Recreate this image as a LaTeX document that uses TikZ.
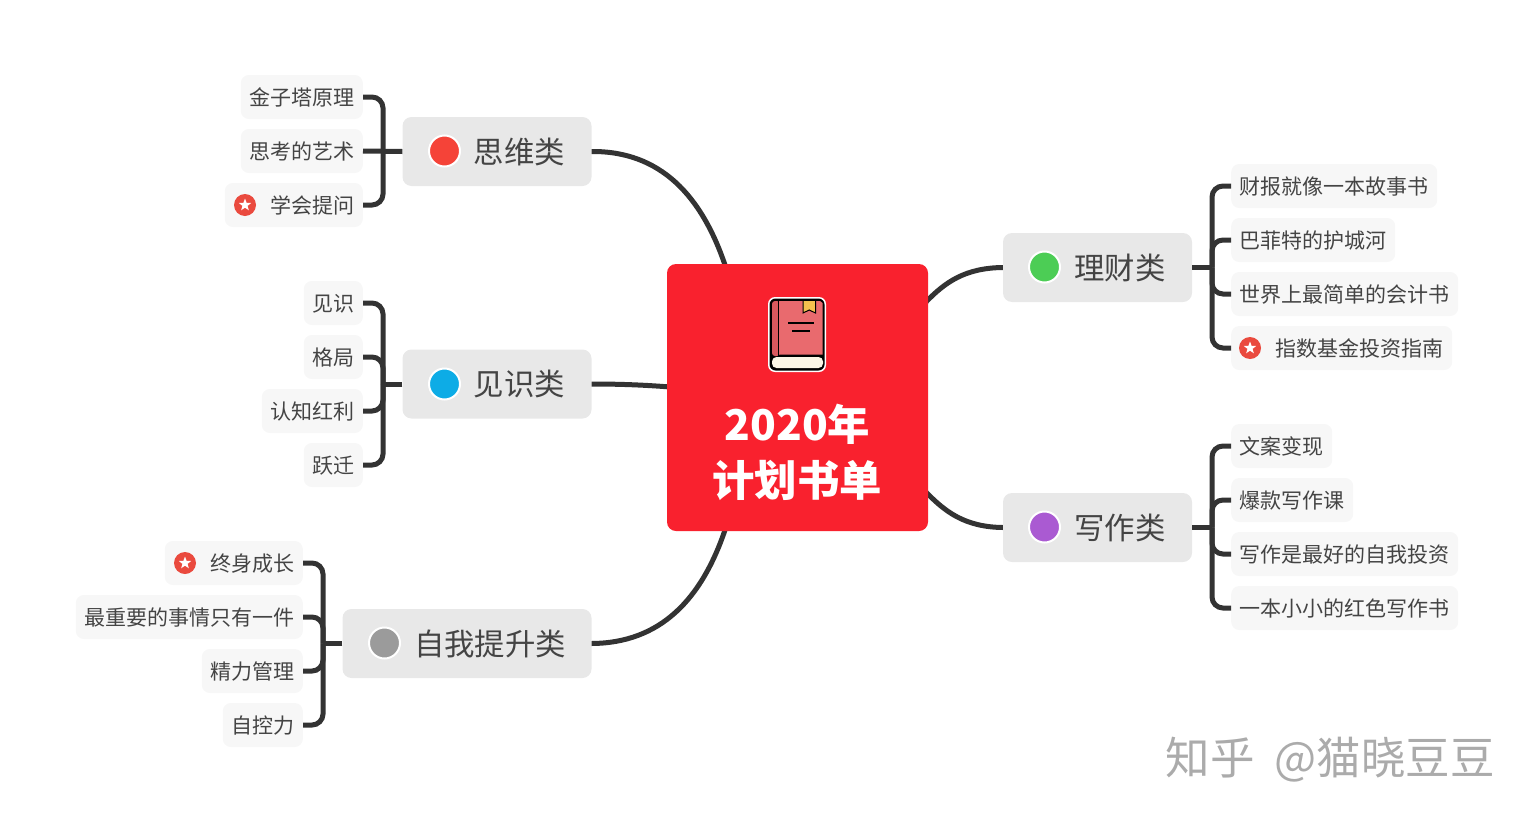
\documentclass[tikz,border=0pt]{standalone}
\usepackage{fontspec}
\setmainfont{Noto Sans CJK SC}
\usetikzlibrary{shapes.geometric}
\definecolor{linec}{HTML}{333333}
\definecolor{textc}{HTML}{444444}
\definecolor{leaff}{HTML}{F7F7F7}
\definecolor{branchf}{HTML}{E8E8E8}
\definecolor{mainf}{HTML}{F9212E}
\definecolor{badgec}{HTML}{EA4A3E}
\definecolor{bookp}{HTML}{E96A6E}
\definecolor{bookd}{HTML}{D9595E}
\definecolor{booky}{HTML}{F5C04E}
\definecolor{bookw}{HTML}{FBF6E6}
\definecolor{wmark}{HTML}{ABABAB}
\tikzset{
  leafbox/.style={fill=leaff,rounded corners=8pt,minimum height=44pt,inner xsep=8.5pt,inner ysep=0pt,text=textc,text height=19pt,text depth=3pt,font=\fontsize{21pt}{24pt}\selectfont},
  leafl/.style={leafbox,anchor=east},
  leafr/.style={leafbox,anchor=west},
  branchbox/.style={fill=branchf,rounded corners=9pt,minimum height=69pt,inner sep=0pt},
  branchtext/.style={text=textc,font=\fontsize{30.4pt}{36pt}\selectfont,inner sep=0pt},
  dotm/.style={circle,draw=white,line width=2pt,minimum size=31pt,inner sep=0pt},
  badge/.style={circle,fill=badgec,minimum size=22pt,inner sep=0pt},
  starm/.style={star,star points=5,star point ratio=2.4,fill=white,minimum size=13pt,inner sep=0pt},
  linkm/.style={draw=linec,line width=5pt,rounded corners=11pt},
  stemm/.style={draw=linec,line width=5pt},
  curvem/.style={draw=linec,line width=5pt},
  titlem/.style={text=white,font=\fontsize{42.4pt}{50pt}\bfseries\selectfont,inner sep=0pt},
}
\begin{document}
\begin{tikzpicture}[x=1pt,y=-1pt]
\useasboundingbox (0,0) rectangle (1534,822);
% main curves, behind the centre
\coordinate (cnw) at (726,268);
\coordinate (cw) at (670,387);
\coordinate (csw) at (726,527);
\coordinate (cne) at (925,303);
\coordinate (cse) at (925,491);
\node[branchbox,minimum width=189pt] (b1) at (497,151.5) {};
\node[branchbox,minimum width=189pt] (b2) at (497,384) {};
\node[branchbox,minimum width=249pt] (b3) at (467,643.5) {};
\node[branchbox,minimum width=189pt] (b4) at (1097.5,267.5) {};
\node[branchbox,minimum width=189pt] (b5) at (1097.5,527.5) {};
\draw[curvem] (b1.east) .. controls (660,151) and (702,195) .. (cnw);
\draw[curvem] (b2.east) .. controls (620,384) and (645,385) .. (cw);
\draw[curvem] (b3.east) .. controls (660,643) and (702,600) .. (csw);
\draw[curvem] (b4.west) .. controls (965,268) and (945,282) .. (cne);
\draw[curvem] (b5.west) .. controls (965,527) and (945,512) .. (cse);
% centre
\node[fill=mainf,rounded corners=9pt,minimum width=261pt,minimum height=267pt,inner sep=0pt] (center) at (797.5,397.5) {};
\node[titlem] (t1) at (797.5,424.5) {2020年};
\node[titlem] (t2) at (797,480) {计划书单};
% book icon
\fill[white,rounded corners=7pt] (768,297) rectangle (826,372);
\fill[black,rounded corners=6pt] (769.5,298.5) rectangle (824.5,370.5);
\fill[bookd,rounded corners=3pt] (772,301) rectangle (780,356);
\fill[bookp] (779,301) -- (820,301) -- (822.5,303) -- (822.5,354.5) -- (779,354.5) -- cycle;
\fill[black] (777.7,301) rectangle (779.2,356);
\fill[booky] (803,301) -- (815.5,301) -- (815.5,313) -- (809.2,310) -- (803,313) -- cycle;
\draw[black,line width=1pt] (803,301) -- (803,313) -- (809.2,310) -- (815.5,313) -- (815.5,301);
\fill[bookw,rounded corners=4.5pt] (772,357) rectangle (823,368);
\draw[black,line width=2pt] (788,322.5) -- (814,322.5);
\draw[black,line width=2pt] (792,330.8) -- (810,330.8);
% branch labels
\node[branchtext] (l1) at (519.5,151.5) {思维类};
\node[branchtext] (l2) at (519.5,384) {见识类};
\node[branchtext] (l3) at (490,643.5) {自我提升类};
\node[branchtext] (l4) at (1120,267.5) {理财类};
\node[branchtext] (l5) at (1120,527.5) {写作类};
\node[dotm,fill={rgb,255:red,245;green,67;blue,56}] (d1) at (444.5,151) {};
\node[dotm,fill={rgb,255:red,13;green,172;blue,230}] (d2) at (444.5,384) {};
\node[dotm,fill={rgb,255:red,155;green,155;blue,155}] (d3) at (384.5,643) {};
\node[dotm,fill={rgb,255:red,76;green,205;blue,85}] (d4) at (1044.5,267) {};
\node[dotm,fill={rgb,255:red,170;green,90;blue,210}] (d5) at (1044.5,527) {};
% leaves: left, upper
\node[leafl] (a1) at (363,97) {金子塔原理};
\node[leafl] (a2) at (363,151) {思考的艺术};
\node[leafl] (a3) at (363,205) {\hspace{37pt}学会提问};
\node[leafl] (e1) at (363,303) {见识};
\node[leafl] (e2) at (363,357) {格局};
\node[leafl] (e3) at (363,411) {认知红利};
\node[leafl] (e4) at (363,465) {跃迁};
\node[leafl] (s1) at (303,563) {\hspace{37pt}终身成长};
\node[leafl] (s2) at (303,617) {最重要的事情只有一件};
\node[leafl] (s3) at (303,671) {精力管理};
\node[leafl] (s4) at (303,725) {自控力};
\node[leafr] (f1) at (1231,186) {财报就像一本故事书};
\node[leafr] (f2) at (1231,240) {巴菲特的护城河};
\node[leafr] (f3) at (1231,294) {世界上最简单的会计书};
\node[leafr] (f4) at (1231,348) {\hspace{36pt}指数基金投资指南};
\node[leafr] (w1) at (1231,446) {文案变现};
\node[leafr] (w2) at (1231,500) {爆款写作课};
\node[leafr] (w3) at (1231,554) {写作是最好的自我投资};
\node[leafr] (w4) at (1231,608) {一本小小的红色写作书};
% star badges
\node[badge] (g1) at (245,205) {};
\node[starm] at (g1) {};
\node[badge] (g2) at (185,563) {};
\node[starm] at (g2) {};
\node[badge] (g3) at (1250,348) {};
\node[starm] at (g3) {};
% trunks
\coordinate (ta) at (383,151.5);
\coordinate (te) at (383,384);
\coordinate (ts) at (323,643.5);
\coordinate (tf) at (1212,267.5);
\coordinate (tw) at (1212,527.5);
\draw[stemm] (b1.west) -- (a2.east);
\draw[linkm] (a1.east) -| (ta);
\draw[linkm] (a3.east) -| (ta);
\draw[stemm] (b2.west) -- (te);
\draw[linkm] (e1.east) -| (te);
\draw[linkm] (e2.east) -| (te);
\draw[linkm] (e3.east) -| (te);
\draw[linkm] (e4.east) -| (te);
\draw[stemm] (b3.west) -- (ts);
\draw[linkm] (s1.east) -| (ts);
\draw[linkm] (s2.east) -| (ts);
\draw[linkm] (s3.east) -| (ts);
\draw[linkm] (s4.east) -| (ts);
\draw[stemm] (b4.east) -- (tf);
\draw[linkm] (f1.west) -| (tf);
\draw[linkm] (f2.west) -| (tf);
\draw[linkm] (f3.west) -| (tf);
\draw[linkm] (f4.west) -| (tf);
\draw[stemm] (b5.east) -- (tw);
\draw[linkm] (w1.west) -| (tw);
\draw[linkm] (w2.west) -| (tw);
\draw[linkm] (w3.west) -| (tw);
\draw[linkm] (w4.west) -| (tw);
% watermark
\node[text=wmark,font=\fontsize{44.5pt}{50pt}\selectfont,inner sep=0pt,anchor=east] (wm) at (1495,760) {知乎\hspace{20pt}@猫晓豆豆};
\end{tikzpicture}
\end{document}
